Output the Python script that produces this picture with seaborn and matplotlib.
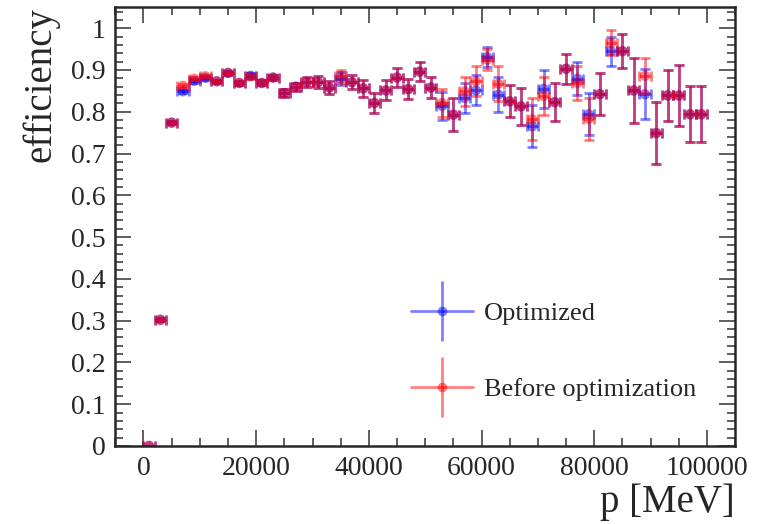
import matplotlib
matplotlib.use("Agg")
import matplotlib.pyplot as plt
import pandas as pd
import seaborn as sns
from matplotlib.lines import Line2D
from matplotlib.legend_handler import HandlerTuple
from matplotlib.ticker import MultipleLocator, FormatStrFormatter

# bin centres in p [MeV], 2000 MeV wide bins
p_centers = [1000, 3000, 5000, 7000, 9000, 11000, 13000, 15000, 17000, 19000,
             21000, 23000, 25000, 27000, 29000, 31000, 33000, 35000, 37000, 39000,
             41000, 43000, 45000, 47000, 49000, 51000, 53000, 55000, 57000, 59000,
             61000, 63000, 65000, 67000, 69000, 71000, 73000, 75000, 77000, 79000,
             81000, 83000, 85000, 87000, 89000, 91000, 93000, 95000, 97000, 99000]
p_halfwidth = 1000

eff_optimized = [0.0, 0.302, 0.774, 0.849, 0.874, 0.881, 0.873, 0.893, 0.869, 0.886,
                 0.869, 0.882, 0.845, 0.860, 0.871, 0.871, 0.858, 0.879, 0.871, 0.856,
                 0.821, 0.851, 0.882, 0.854, 0.896, 0.858, 0.814, 0.793, 0.833, 0.851,
                 0.931, 0.841, 0.825, 0.813, 0.765, 0.855, 0.823, 0.903, 0.879, 0.794,
                 0.842, 0.945, 0.945, 0.851, 0.842, 0.749, 0.839, 0.839, 0.794, 0.794]
err_optimized = [0.0, 0.004, 0.004, 0.004, 0.004, 0.004, 0.004, 0.005, 0.005, 0.006,
                 0.006, 0.007, 0.010, 0.010, 0.012, 0.015, 0.016, 0.016, 0.017, 0.020,
                 0.024, 0.024, 0.022, 0.024, 0.022, 0.026, 0.033, 0.040, 0.035, 0.036,
                 0.024, 0.042, 0.038, 0.044, 0.050, 0.046, 0.046, 0.036, 0.040, 0.050,
                 0.050, 0.035, 0.040, 0.078, 0.060, 0.074, 0.060, 0.072, 0.067, 0.067]

eff_before = [0.0, 0.302, 0.774, 0.862, 0.879, 0.885, 0.873, 0.893, 0.869, 0.885,
              0.869, 0.882, 0.845, 0.860, 0.871, 0.871, 0.858, 0.885, 0.871, 0.856,
              0.821, 0.851, 0.882, 0.854, 0.896, 0.858, 0.821, 0.793, 0.849, 0.873,
              0.925, 0.867, 0.825, 0.813, 0.782, 0.838, 0.823, 0.903, 0.869, 0.783,
              0.842, 0.965, 0.945, 0.851, 0.886, 0.749, 0.839, 0.839, 0.794, 0.794]
err_before = [0.0, 0.004, 0.004, 0.004, 0.004, 0.004, 0.004, 0.005, 0.005, 0.006,
              0.006, 0.007, 0.010, 0.010, 0.012, 0.015, 0.016, 0.016, 0.017, 0.020,
              0.024, 0.024, 0.022, 0.024, 0.022, 0.026, 0.033, 0.040, 0.035, 0.036,
              0.025, 0.042, 0.038, 0.044, 0.050, 0.046, 0.046, 0.036, 0.040, 0.050,
              0.050, 0.030, 0.040, 0.078, 0.042, 0.074, 0.060, 0.072, 0.067, 0.067]

labels = ["Optimized", "Before optimization"]
colors = ["blue", "red"]

df = pd.concat([
    pd.DataFrame({"p": p_centers, "eff": eff_optimized, "err": err_optimized, "sample": labels[0]}),
    pd.DataFrame({"p": p_centers, "eff": eff_before, "err": err_before, "sample": labels[1]}),
])

sns.set_style("ticks")
plt.rcParams["font.family"] = ["Liberation Serif", "DejaVu Serif"]

fig = plt.figure(figsize=(7.61, 5.24), dpi=100)
ax = fig.add_axes([0.1515, 0.149, 0.8145, 0.837])

# error bars per sample, then markers through seaborn
for name, col in zip(labels, colors):
    sub = df[df["sample"] == name]
    ax.errorbar(sub["p"], sub["eff"], xerr=p_halfwidth, yerr=sub["err"], fmt="none",
                ecolor=col, elinewidth=2, capsize=3.5, capthick=2, alpha=0.5)
sns.scatterplot(data=df, x="p", y="eff", hue="sample", palette=colors, s=55,
                alpha=0.5, linewidth=0, legend=False, ax=ax, clip_on=True)

ax.set_xlim(-5000, 105000)
ax.set_ylim(0, 1.05)
ax.xaxis.set_major_locator(MultipleLocator(20000))
ax.xaxis.set_minor_locator(MultipleLocator(5000))
ax.yaxis.set_major_locator(MultipleLocator(0.1))
ax.yaxis.set_minor_locator(MultipleLocator(0.02))
ax.xaxis.set_major_formatter(FormatStrFormatter("%d"))
ax.yaxis.set_major_formatter(FormatStrFormatter("%g"))

ax.tick_params(which="both", direction="in", top=True, right=True,
               labelsize=20, color="#333333", width=1.1)
ax.tick_params(which="major", length=11.5, pad=7)
ax.tick_params(which="minor", length=5.8)
for sp in ax.spines.values():
    sp.set_linewidth(1.8)

ax.set_xlabel("p [MeV]", loc="right", fontsize=28, labelpad=2)
ax.set_ylabel("efficiency", loc="top", fontsize=28, labelpad=8)

# legend: error-bar crosses without caps
handles = []
for col in colors:
    hline = Line2D([], [], color=col, lw=2, alpha=0.5)
    vbar = Line2D([], [], color=col, ls="none", marker="|", ms=43, mew=2, alpha=0.5)
    dot = Line2D([], [], color=col, ls="none", marker="o", ms=7, mew=0, alpha=0.5)
    handles.append((hline, vbar, dot))
ax.legend(handles, labels, handler_map={tuple: HandlerTuple(ndivide=1)},
          loc="upper left", bbox_to_anchor=(0.477, 0.329), borderaxespad=0,
          borderpad=0, frameon=False, fontsize=19, handlelength=2.35,
          handletextpad=0.42, labelspacing=2.0)

fig.savefig("out.png", dpi=100)
